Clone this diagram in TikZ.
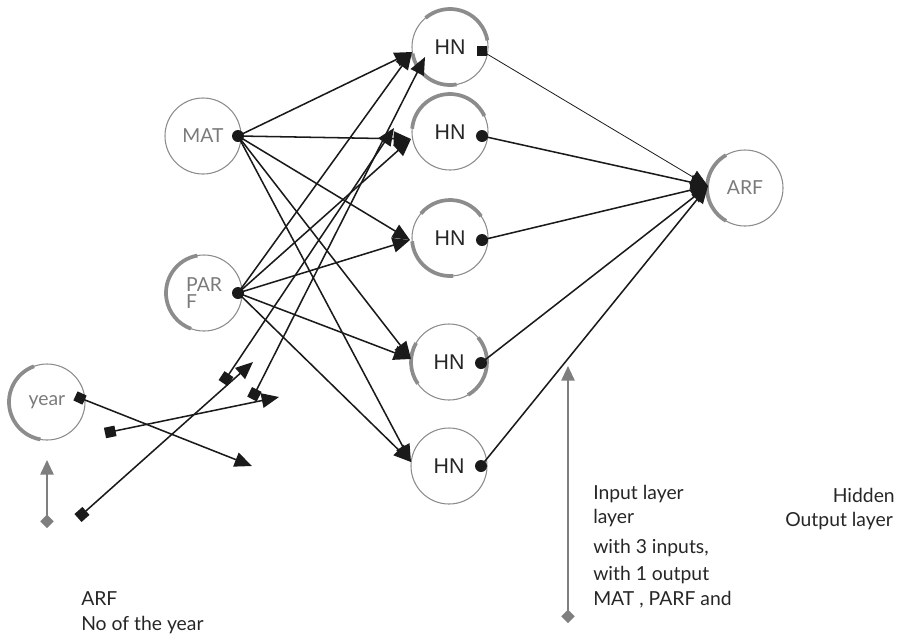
\documentclass[tikz,border=0pt]{standalone}
\usepackage{fontspec}
\setmainfont{Lato}
\newfontfamily\hnfont{Liberation Sans}
\usetikzlibrary{arrows.meta}
\definecolor{ringgray}{HTML}{8C8C8C}
\definecolor{labelgray}{HTML}{7A7A7A}
\definecolor{hntext}{HTML}{262626}
\definecolor{arrowgray}{HTML}{7F7F7F}
\definecolor{ink}{HTML}{1A1A1A}
\begin{document}
\begin{tikzpicture}[x=0.75pt,y=-0.75pt,
  neuron/.style={circle, draw=ringgray, line width=0.8pt, minimum size=57pt, inner sep=0pt, outer sep=0pt, text=labelgray, font=\fontsize{14.5}{13}\selectfont},
  hn/.style={neuron, text=hntext, font=\hnfont\fontsize{16}{17}\selectfont},
  ring/.style={draw=ringgray, line width=2.8pt},
  dot/.style={circle, fill=ink, inner sep=0pt, minimum size=9pt},
  sq/.style={rectangle, fill=ink, inner sep=0pt, minimum size=7.5pt},
  conn/.style={draw=ink, line width=1.15pt, -{Triangle[length=13pt,width=11pt]}},
  thinconn/.style={conn, line width=0.6pt},
  loose/.style={draw=ink, line width=1.15pt, {Square[length=8pt,width=8pt]}-{Triangle[length=13pt,width=11pt]}},
  gline/.style={draw=arrowgray, line width=1.3pt, {Turned Square[length=10pt,width=10pt]}-{Triangle[length=11pt,width=10pt]}},
  txt/.style={anchor=base west, inner sep=0pt, font=\fontsize{14.5}{16}\selectfont, text=black!85},
  txtr/.style={txt, anchor=base east}
]
\useasboundingbox (0,0) rectangle (899,636);

% neurons
\node[neuron] (MAT) at (203,136) {MAT};
\node[neuron, align=left] (PARF) at (204,293) {PAR\\F};
\node[neuron] (year) at (47,402) {year};
\node[hn] (HN1) at (450,47) {HN};
\node[hn] (HN2) at (450,132) {HN};
\node[hn] (HN3) at (450,238) {HN};
\node[hn] (HN4) at (449,362) {HN};
\node[hn] (HN5) at (449,466) {HN};
\node[neuron] (ARF) at (745,188) {ARF};

% shaded ring parts
\draw[ring] (HN1.130) arc[start angle=130,end angle=10,radius=28.5pt];
\draw[ring] (HN1.190) arc[start angle=190,end angle=280,radius=28.5pt];
\draw[ring] (HN2.175) arc[start angle=175,end angle=25,radius=28.5pt];
\draw[ring] (HN3.140) arc[start angle=140,end angle=35,radius=28.5pt];
\draw[ring] (HN3.185) arc[start angle=185,end angle=275,radius=28.5pt];
\draw[ring] (HN4.-60) arc[start angle=-60,end angle=40,radius=28.5pt];
\draw[ring] (HN4.150) arc[start angle=150,end angle=215,radius=28.5pt];
\draw[ring] (PARF.100) arc[start angle=100,end angle=250,radius=28.5pt];
\draw[ring] (year.110) arc[start angle=110,end angle=260,radius=28.5pt];
\draw[ring] (ARF.120) arc[start angle=120,end angle=240,radius=28.5pt];

% free ends
\coordinate (i1) at (412,52);
\coordinate (i2) at (411,139);
\coordinate (i3) at (410,240);
\coordinate (i4) at (411,359);
\coordinate (i5) at (411,462);
\coordinate (o) at (708,186);
\coordinate (b1) at (425,57);
\coordinate (b2) at (394,128);
\coordinate (s1) at (78,518);
\coordinate (e1) at (253,362);
\coordinate (s2) at (223,383);
\coordinate (s3) at (252,399);
\coordinate (s4) at (105,433);
\coordinate (e4) at (279,397);
\coordinate (e5) at (252,466);
\coordinate (ga1) at (47,528);
\coordinate (ga2) at (47,460);
\coordinate (gb1) at (568,623);
\coordinate (gb2) at (568,366);

% input -> hidden
\foreach \t in {i1,i2,i3,i4,i5} {
  \draw[conn] (238,136) -- (\t);
  \draw[conn] (238,293) -- (\t);
}
% loose connectors
\draw[loose] (s1) -- (e1);
\draw[loose] (s2) -- (b2);
\draw[loose] (s3) -- (b1);
\draw[loose] (s4) -- (e4);
\draw[conn] (80,398) -- (e5);

% hidden -> output
\draw[thinconn] (482,51) -- (o);
\draw[conn] (482,136) -- (o);
\draw[conn] (482,240) -- (o);
\draw[conn] (481,363) -- (o);
\draw[conn] (481,466) -- (o);

% start markers
\node[dot] (dMAT) at (238,136) {};
\node[dot] (dPARF) at (238,293) {};
\node[sq] (sHN1) at (482,51) {};
\node[dot] (dHN2) at (482,136) {};
\node[dot] (dHN3) at (482,240) {};
\node[dot] (dHN4) at (481,363) {};
\node[dot] (dHN5) at (481,466) {};
\node[sq, rotate=-25] (syear) at (80,398) {};

% grey arrows
\draw[gline] (ga1) -- (ga2);
\draw[gline] (gb1) -- (gb2);

% texts
\node[txt] (t1) at (593,499) {Input layer};
\node[txt] (t2) at (593,523) {layer};
\node[txt] (t3) at (593,553) {with 3 inputs,};
\node[txt] (t4) at (593,580) {with 1 output};
\node[txt] (t5) at (593,605) {MAT , PARF and};
\node[txtr] (t6) at (895,502) {Hidden};
\node[txtr] (t7) at (893,526) {Output layer};
\node[txt] (t8) at (81,605) {ARF};
\node[txt] (t9) at (81,630) {No of the year};
\end{tikzpicture}
\end{document}
